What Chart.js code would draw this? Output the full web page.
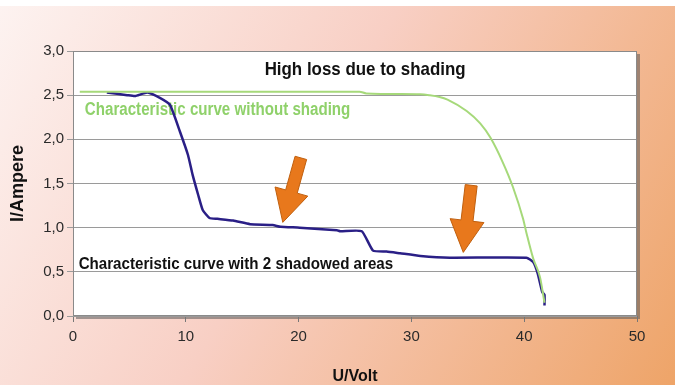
<!DOCTYPE html>
<html>
<head>
<meta charset="utf-8">
<script src="https://cdn.jsdelivr.net/npm/chart.js@4.4.0/dist/chart.umd.min.js"></script>
<style>
  body { margin: 0; background: #fff; }
  #wrap { width: 675px; height: 385px; }
</style>
</head>
<body>
<div id="wrap"><canvas id="ivChart" width="675" height="385"></canvas></div>
<script>
// U/Volt and I/Ampere
const uShaded = [3.0, 4.8, 5.5, 6.6, 7.7, 8.6, 9.5, 10.2, 10.6, 11.1, 11.5, 12.1, 12.8, 14.2, 15.7, 17.7, 18.4, 20.1, 23.4, 23.7, 25.6, 26.6, 27.8, 29.0, 30.8, 33.4, 40.2, 40.8, 41.2, 41.6, 41.8, 41.8];
const iShaded = [2.53, 2.50, 2.49, 2.53, 2.47, 2.39, 2.08, 1.82, 1.60, 1.37, 1.20, 1.11, 1.10, 1.08, 1.04, 1.03, 1.01, 1.00, 0.97, 0.96, 0.96, 0.74, 0.73, 0.71, 0.68, 0.66, 0.66, 0.61, 0.48, 0.27, 0.24, 0.12];

const uFree = [0.6, 25.4, 26.0, 30.8, 31.6, 32.5, 33.2, 34.9, 36.1, 37.0, 38.1, 39.0, 39.9, 40.2, 40.8, 41.4, 41.8];
const iFree = [2.54, 2.54, 2.52, 2.51, 2.50, 2.48, 2.45, 2.32, 2.18, 2.02, 1.74, 1.46, 1.10, 0.94, 0.65, 0.44, 0.15];

const xTicks = [0, 10, 20, 30, 40, 50];
const yTicks = [0, 0.5, 1.0, 1.5, 2.0, 2.5, 3.0];

// arrows: tail and tip in data units (U, I)
const arrowTails = [[20.2, 1.79], [35.3, 1.48]];
const arrowTips = [[18.6, 1.06], [34.6, 0.72]];

const SANS = "'Liberation Sans', Arial, sans-serif";

// labels drawn condensed (the original uses a narrow face)
const notes = [
  { text: 'High loss due to shading', u: 25.9, i: 2.79, align: 'center', color: '#111', size: 19, squeeze: 0.89 },
  { text: 'Characteristic curve without shading', u: 1.05, i: 2.33, align: 'left', color: '#8fd16a', size: 18, squeeze: 0.84 },
  { text: 'Characteristic curve with 2 shadowed areas', u: 0.5, i: 0.58, align: 'left', color: '#111', size: 17, squeeze: 0.89 }
];

function toPoints(us, is) {
  return us.map((u, k) => ({ x: u, y: is[k] }));
}

const backdrop = {
  id: 'backdrop',
  beforeDraw(chart) {
    const { ctx, width, height, chartArea: a } = chart;
    ctx.save();
    const g = ctx.createLinearGradient(0, 0, width, height);
    g.addColorStop(0, '#fdf3f1');
    g.addColorStop(0.45, '#f8cfc4');
    g.addColorStop(1, '#eea468');
    ctx.fillStyle = g;
    ctx.fillRect(0, 0, width, height);
    ctx.fillStyle = '#ffffff';
    ctx.fillRect(0, 0, width, 6);
    // plot shadow
    ctx.fillStyle = 'rgba(90,90,90,0.55)';
    ctx.fillRect(a.left + 3, a.top + 3, a.right - a.left, a.bottom - a.top);
    ctx.fillStyle = '#ffffff';
    ctx.fillRect(a.left, a.top, a.right - a.left, a.bottom - a.top);
    ctx.restore();
  },
  beforeDatasetsDraw(chart) {
    const { ctx, chartArea: a, scales } = chart;
    ctx.save();
    ctx.strokeStyle = '#8a8a8a';
    ctx.lineWidth = 1;
    ctx.strokeRect(a.left + 0.5, a.top + 0.5, a.right - a.left - 1, a.bottom - a.top - 1);
    ctx.textBaseline = 'middle';
    notes.forEach(n => {
      const x = scales.x.getPixelForValue(n.u), y = scales.y.getPixelForValue(n.i);
      ctx.save();
      ctx.translate(x, y);
      ctx.scale(n.squeeze, 1);
      ctx.font = 'bold ' + n.size + 'px ' + SANS;
      ctx.fillStyle = n.color;
      ctx.textAlign = n.align;
      ctx.fillText(n.text, 0, 0);
      ctx.restore();
    });
    ctx.restore();
  },
  afterDatasetsDraw(chart) {
    const { ctx, scales } = chart;
    ctx.save();
    arrowTails.forEach((t, k) => {
      const tx = scales.x.getPixelForValue(t[0]), ty = scales.y.getPixelForValue(t[1]);
      const px = scales.x.getPixelForValue(arrowTips[k][0]), py = scales.y.getPixelForValue(arrowTips[k][1]);
      const len = Math.hypot(px - tx, py - ty);
      const dx = (px - tx) / len, dy = (py - ty) / len;
      const nx = -dy, ny = dx;
      const shaft = 6, head = 17, headLen = 32;
      const mx = px - dx * headLen, my = py - dy * headLen;
      ctx.beginPath();
      ctx.moveTo(tx + nx * shaft, ty + ny * shaft);
      ctx.lineTo(mx + nx * shaft, my + ny * shaft);
      ctx.lineTo(mx + nx * head, my + ny * head);
      ctx.lineTo(px, py);
      ctx.lineTo(mx - nx * head, my - ny * head);
      ctx.lineTo(mx - nx * shaft, my - ny * shaft);
      ctx.lineTo(tx - nx * shaft, ty - ny * shaft);
      ctx.closePath();
      ctx.fillStyle = '#e8781c';
      ctx.fill();
      ctx.strokeStyle = '#c0600f';
      ctx.lineWidth = 1;
      ctx.stroke();
    });
    ctx.restore();
  }
};

new Chart(document.getElementById('ivChart'), {
  type: 'scatter',
  data: {
    datasets: [
      {
        label: 'Characteristic curve without shading',
        data: toPoints(uFree, iFree),
        showLine: true,
        borderColor: '#a6d97a',
        borderWidth: 2,
        pointRadius: 0,
        cubicInterpolationMode: 'monotone'
      },
      {
        label: 'Characteristic curve with 2 shadowed areas',
        data: toPoints(uShaded, iShaded),
        showLine: true,
        borderColor: '#2a1f86',
        borderWidth: 2.5,
        pointRadius: 0,
        tension: 0.15
      }
    ]
  },
  options: {
    responsive: false,
    animation: false,
    layout: { padding: { top: 51, right: 38, left: 0, bottom: 0 } },
    plugins: {
      legend: { display: false },
      tooltip: { enabled: false }
    },
    scales: {
      x: {
        type: 'linear',
        min: 0,
        max: 50,
        afterBuildTicks: s => { s.ticks = xTicks.map(v => ({ value: v })); },
        afterFit: s => { s.height = 69; },
        ticks: { color: '#2a2a2a', padding: 6, font: { family: SANS, size: 15 } },
        grid: { drawOnChartArea: false, tickLength: 6, color: '#777' },
        border: { display: false },
        title: { display: true, text: 'U/Volt', color: '#111', padding: 0, font: { family: SANS, size: 16, weight: 'bold', lineHeight: 1 } }
      },
      y: {
        min: 0,
        max: 3,
        afterBuildTicks: s => { s.ticks = yTicks.map(v => ({ value: v })); },
        afterFit: s => { s.width = 73; },
        ticks: { color: '#2a2a2a', padding: 3, font: { family: SANS, size: 15 }, callback: v => v.toFixed(1).replace('.', ',') },
        grid: { color: '#9a9a9a', tickLength: 6 },
        border: { display: false },
        title: { display: true, text: 'I/Ampere', color: '#111', padding: 9, font: { family: SANS, size: 18, weight: 'bold', lineHeight: 1 } }
      }
    }
  },
  plugins: [backdrop]
});
</script>
</body>
</html>
